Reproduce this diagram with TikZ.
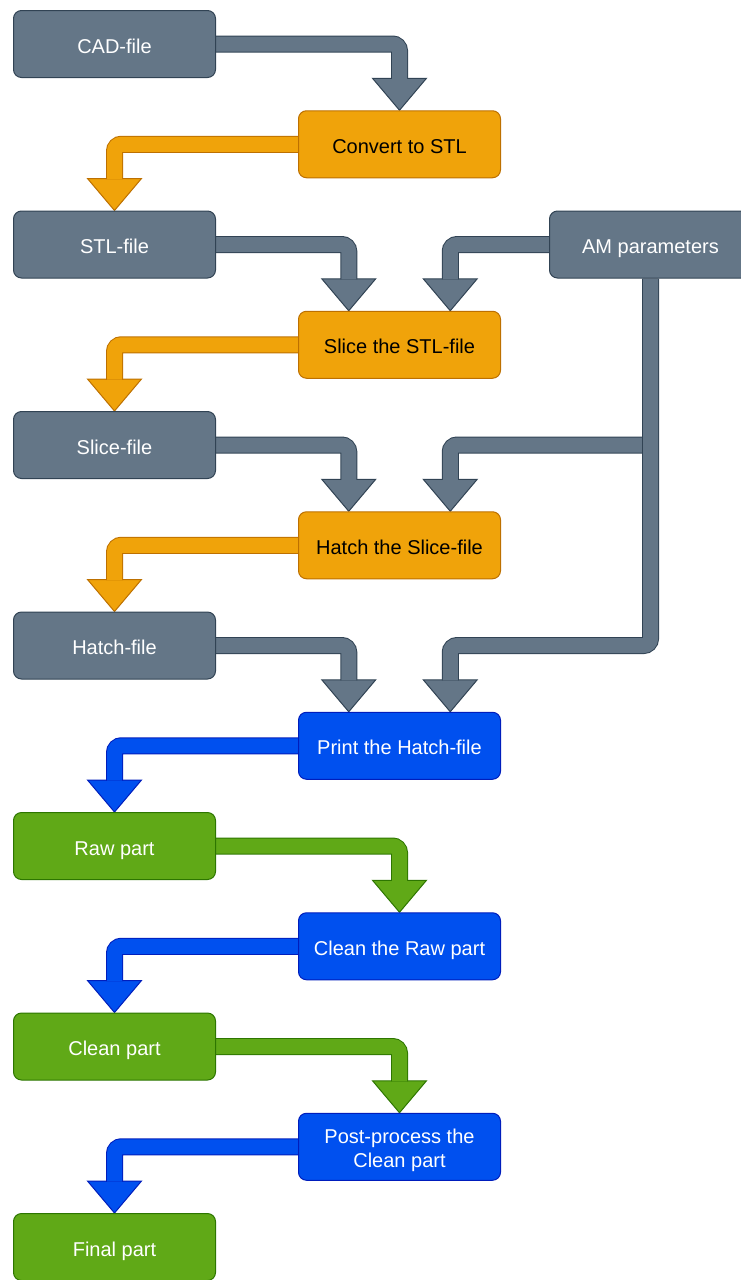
\documentclass[tikz,border=0pt]{standalone}
\usepackage{fontspec}
\setmainfont{Liberation Sans}
\usetikzlibrary{calc,backgrounds}
\definecolor{grayF}{HTML}{647687}
\definecolor{grayS}{HTML}{314354}
\definecolor{orgF}{HTML}{F0A30A}
\definecolor{orgS}{HTML}{BD7000}
\definecolor{bluF}{HTML}{0050EF}
\definecolor{bluS}{HTML}{001DBC}
\definecolor{grnF}{HTML}{60A917}
\definecolor{grnS}{HTML}{2D7600}
\tikzset{
  box/.style={rectangle, rounded corners=8pt, minimum width=202pt, minimum height=67pt,
    anchor=north west, line width=1pt, inner sep=0pt, text height=20pt, text depth=2pt,
    font=\fontsize{20}{24}\selectfont},
  graybox/.style={box, fill=grayF, draw=grayS, text=white},
  orgbox/.style={box, fill=orgF, draw=orgS, text=black},
  blubox/.style={box, fill=bluF, draw=bluS, text=white},
  grnbox/.style={box, fill=grnF, draw=grnS, text=white},
  twoline/.style={text height=17pt, text depth=23pt},
  arrhead/.style={line width=1pt, line join=miter},
  arrshaft/.style={line width=1pt, double distance=15pt, rounded corners=7pt},
}
% #1 fill, #2 stroke, #3 start, #4 tip
\newcommand{\flexarr}[4]{%
  \filldraw[arrhead, fill=#1, draw=#2] ($(#4)+(-27,-32)$) -- (#4) -- ($(#4)+(27,-32)$) -- cycle;
  \draw[arrshaft, draw=#2, double=#1] (#3) -- (#3 -| #4) -- ($(#4)+(0,-31.5)$);
}
\begin{document}
\begin{tikzpicture}[x=1pt,y=-1pt]
\useasboundingbox (0,0) rectangle (741,1280);
\begin{scope}
\clip (0,0) rectangle (741,1280);
\node[graybox] (cad)     at (13,10)      {CAD-file};
\node[orgbox]  (conv)    at (298,110.25) {Convert to STL};
\node[graybox] (stl)     at (13,210.5)   {STL-file};
\node[graybox] (am)      at (549,210.5)  {AM parameters};
\node[orgbox]  (slice)   at (298,310.75) {Slice the STL-file};
\node[graybox] (slicef)  at (13,411)     {Slice-file};
\node[orgbox]  (hatch)   at (298,511.25) {Hatch the Slice-file};
\node[graybox] (hatchf)  at (13,611.5)   {Hatch-file};
\node[blubox]  (print)   at (298,711.75) {Print the Hatch-file};
\node[grnbox]  (raw)     at (13,812)     {Raw part};
\node[blubox]  (cleanr)  at (298,912.25) {Clean the Raw part};
\node[grnbox]  (clean)   at (13,1012.5)  {Clean part};
\node[blubox, twoline] (post) at (298,1112.75) {\begin{tabular}[t]{@{}c@{}}Post-process the\\Clean part\end{tabular}};
\node[grnbox]  (final)   at (13,1213)    {Final part};
\end{scope}
\coordinate (sliceL) at ($(slice.north west)!0.25!(slice.north east)$);
\coordinate (sliceR) at ($(slice.north west)!0.75!(slice.north east)$);
\coordinate (hatchL) at ($(hatch.north west)!0.25!(hatch.north east)$);
\coordinate (hatchR) at ($(hatch.north west)!0.75!(hatch.north east)$);
\coordinate (printL) at ($(print.north west)!0.25!(print.north east)$);
\coordinate (printR) at ($(print.north west)!0.75!(print.north east)$);
\coordinate (amA) at (am.south |- slicef.east);
\begin{pgfonlayer}{background}
\flexarr{grayF}{grayS}{cad.east}{conv.north}
\flexarr{orgF}{orgS}{conv.west}{stl.north}
\flexarr{grayF}{grayS}{stl.east}{sliceL}
\flexarr{grayF}{grayS}{am.west}{sliceR}
\flexarr{orgF}{orgS}{slice.west}{slicef.north}
\flexarr{grayF}{grayS}{slicef.east}{hatchL}
\flexarr{grayF}{grayS}{amA}{hatchR}
\flexarr{orgF}{orgS}{hatch.west}{hatchf.north}
\flexarr{grayF}{grayS}{hatchf.east}{printL}
% AM parameters main line
\filldraw[arrhead, fill=grayF, draw=grayS] ($(printR)+(-27,-32)$) -- (printR) -- ($(printR)+(27,-32)$) -- cycle;
\draw[arrshaft, draw=grayS, double=grayF] (am.south) -- (am.south |- hatchf.east) -- (hatchf.east -| printR) -- ($(printR)+(0,-31.5)$);
\flexarr{bluF}{bluS}{print.west}{raw.north}
\flexarr{grnF}{grnS}{raw.east}{cleanr.north}
\flexarr{bluF}{bluS}{cleanr.west}{clean.north}
\flexarr{grnF}{grnS}{clean.east}{post.north}
\flexarr{bluF}{bluS}{post.west}{final.north}
\end{pgfonlayer}
\end{tikzpicture}
\end{document}
